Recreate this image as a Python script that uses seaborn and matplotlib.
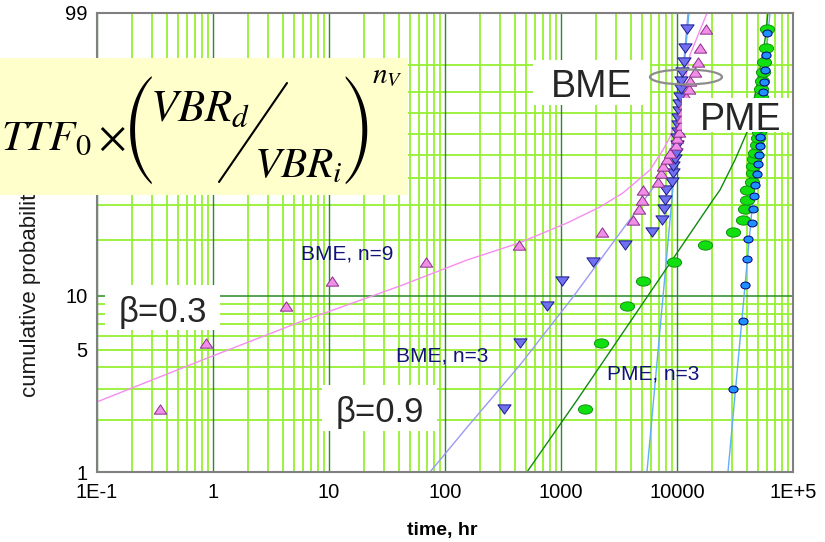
import numpy as np
import matplotlib
matplotlib.use("Agg")
import matplotlib.pyplot as plt
import seaborn as sns
from matplotlib.path import Path
from matplotlib.markers import MarkerStyle
from matplotlib.patches import Rectangle, Ellipse
from matplotlib.lines import Line2D
from matplotlib.ticker import NullLocator

# ---- plotting positions (cumulative %) ----
pct_n30 = [2.3, 5.5, 8.8, 12.1, 15.3, 18.7, 22.0, 25.2, 28.5, 31.7,
           35.0, 38.3, 41.8, 45.0, 48.2, 51.0, 54.7, 58.0, 61.0, 64.5,
           68.0, 71.3, 74.6, 77.9, 81.2, 84.5, 87.8, 91.0, 94.4, 97.6]
pct_n23 = [3.0, 7.3, 11.5, 15.8, 20.1, 24.4, 28.6, 32.9, 37.2, 41.5,
           45.7, 50.0, 54.3, 58.5, 62.8, 67.1, 71.4, 75.6, 79.9, 84.2,
           88.5, 92.7, 97.0]

# ---- failure times, hr ----
t_bme_n9 = [0.35, 0.87, 4.3, 10.6, 69, 435, 2260, 4180, 4700, 4990,
            5090, 6860, 7280, 7570, 8200, 8710, 9800, 10000, 10400, 10830,
            11050, 11270, 11490, 11960, 12680, 12940, 14300, 15180, 15780, 17800]
t_bme_n3 = [322, 443, 757, 1020, 1890, 3560, 6090, 7430, 7730, 7880,
            8040, 9060, 9240, 9300, 9620, 9800, 10000, 10050, 10100, 10200,
            10300, 10400, 10500, 10600, 10750, 10900, 11050, 11400, 11700, 12200]
t_pme_n3 = [1610, 2210, 3700, 5090, 9420, 17400, 30400, 37100, 38600, 40100,
            40500, 44300, 44800, 45200, 46200, 47000, 49000, 49900, 50500, 50900,
            51300, 52000, 52400, 53000, 53400, 54100, 55100, 56200, 58500, 59700]
t_pme = [30400, 37100, 38600, 40100, 40600, 44300, 45200, 46200, 47000, 49000,
         49900, 50900, 51500, 52000, 52600, 53200, 54000, 54800, 55600, 56500,
         57500, 58800, 59700]

# ---- fitted curves ----
fit_bme9_t = [0.1, 0.773, 5.62, 40.9, 155, 434, 1126, 2170, 3420, 5850,
              7570, 8710, 10620, 12940, 18150]
fit_bme9_p = [2.53, 4.33, 7.18, 11.34, 15.66, 19.24, 24.35, 29.23, 34.09, 43.26,
              52.3, 58.6, 72.7, 92.8, 99.0]
fit_bme3_t = [74.3, 148.7, 443, 1269, 3040, 4520, 6460, 8360, 9610, 10620, 11490, 12440]
fit_bme3_p = [1.0, 1.75, 4.11, 9.87, 20.67, 28.27, 37.1, 47.7, 59.5, 76.4, 91.5, 99.0]
fit_bme_t = [5510, 12680]
fit_bme_p = [1.0, 99.0]
fit_pme3_t = [509, 1374, 5300, 20430, 23480, 31620, 40930, 49860, 57400, 60800]
fit_pme3_p = [1.0, 2.59, 9.5, 31.6, 35.2, 47.7, 62.0, 84.8, 96.0, 99.0]
fit_pme_t = [27500, 63300]
fit_pme_p = [1.0, 99.0]

x_ticks = [0.1, 1, 10, 100, 1000, 1e4, 1e5]
x_labels = ["1E-1", "1", "10", "100", "1000", "10000", "1E+5"]
y_ticks = [1, 5, 10, 90, 99]
y_labels = ["1", "5", "10", "90", "99"]
y_grid = [2, 3, 4, 5, 6, 7, 8, 9, 20, 30, 40, 50, 60, 70, 80, 90]

sns.set_theme(style="white")
plt.rcParams['font.family'] = ['Liberation Sans', 'DejaVu Sans']

W, H = 825, 542
fig = plt.figure(figsize=(W / 100, H / 100), dpi=100)
L, R, T, B = 97, 793, 13, 472
ax = fig.add_axes([L / W, 1 - B / H, (R - L) / W, (B - T) / H])


def fx(x):
    return x / W


def fy(y):
    return 1 - y / H


def weibull_fwd(p):
    p = np.clip(np.asarray(p, dtype=float), 1e-6, 100 - 1e-6)
    return np.log(-np.log(1 - p / 100))


def weibull_inv(w):
    return 100 * (1 - np.exp(-np.exp(np.asarray(w, dtype=float))))


ax.set_xscale('log')
ax.set_yscale('function', functions=(weibull_fwd, weibull_inv))
ax.set_xlim(0.1, 1e5)
ax.set_ylim(1, 99)
ax.grid(False)

light = '#96f032'
dark = '#2a8a2a'
for d in x_ticks[:-1]:
    for k in range(2, 10):
        ax.axvline(d * k, color=light, lw=1.3, zorder=0.5)
for p in y_grid:
    ax.axhline(p, color=light, lw=1.3, zorder=0.5)
for d in x_ticks:
    ax.axvline(d, color=dark, lw=1.0, zorder=0.6)
ax.axhline(10, color=dark, lw=1.1, zorder=0.6)

# fitted curves
sns.lineplot(x=fit_bme9_t, y=fit_bme9_p, color='#f78cf0', lw=1.0, sort=False,
             estimator=None, ax=ax, zorder=2)
sns.lineplot(x=fit_bme3_t, y=fit_bme3_p, color='#9a9af5', lw=1.0, sort=False,
             estimator=None, ax=ax, zorder=2)
sns.lineplot(x=fit_bme_t, y=fit_bme_p, color='#5fb0f5', lw=1.0, sort=False,
             estimator=None, ax=ax, zorder=2)
sns.lineplot(x=fit_pme3_t, y=fit_pme3_p, color='#118811', lw=1.0, sort=False,
             estimator=None, ax=ax, zorder=2)
sns.lineplot(x=fit_pme_t, y=fit_pme_p, color='#5fb0f5', lw=1.0, sort=False,
             estimator=None, ax=ax, zorder=2)

# markers
C = [Path.MOVETO, Path.LINETO, Path.LINETO, Path.CLOSEPOLY]
tri_up = MarkerStyle(Path([(-1, -0.75), (1, -0.75), (0, 0.75), (-1, -0.75)], C))
tri_dn = MarkerStyle(Path([(-1, 0.7), (1, 0.7), (0, -0.7), (-1, 0.7)], C))


def oval(ratio):
    c = Path.unit_circle()
    return MarkerStyle(Path(c.vertices * np.array([1.0, ratio]), c.codes))


sns.scatterplot(x=t_pme_n3, y=pct_n30, marker=oval(0.65), s=105, color='#10e010',
                edgecolor='#109010', linewidth=0.7, ax=ax, zorder=4, legend=False)
sns.scatterplot(x=t_pme, y=pct_n23, marker=oval(0.75), s=44, color='#2090ff',
                edgecolor='#000080', linewidth=0.7, ax=ax, zorder=4, legend=False)
sns.scatterplot(x=t_bme_n3, y=pct_n30, marker=tri_dn, s=90, color='#7070f0',
                edgecolor='#1a1a8c', linewidth=0.7, ax=ax, zorder=5, legend=False)
sns.scatterplot(x=t_bme_n9, y=pct_n30, marker=tri_up, s=80, color='#f08ee8',
                edgecolor='#8b2d8b', linewidth=0.7, ax=ax, zorder=6, legend=False)

# axes styling
ax.set_xticks(x_ticks, labels=x_labels)
ax.set_yticks(y_ticks, labels=y_labels)
ax.xaxis.set_minor_locator(NullLocator())
ax.yaxis.set_minor_locator(NullLocator())
ax.tick_params(axis='x', length=0, pad=8, labelsize=14.5, labelcolor='black')
ax.tick_params(axis='y', length=3, width=1.2, color='#808080', pad=4,
               labelsize=14.5, labelcolor='black')
for sp in ax.spines.values():
    sp.set_visible(True)
    sp.set_color('#808080')
    sp.set_linewidth(1.5)
    sp.set_zorder(7)
ax.set_xlabel('')
ax.set_ylabel('')
ax.text(fx(31), fy(290), 'cumulative probability', rotation=90, ha='center',
        va='center', fontsize=16, color='#1a1a1a', transform=fig.transFigure)
fig.text(fx(442), fy(530), 'time, hr', ha='center', va='center', fontsize=14,
         fontweight='bold', color='black')


def box(x0, y0, x1, y1, color='white'):
    fig.add_artist(Rectangle((fx(x0), fy(y1)), (x1 - x0) / W, (y1 - y0) / H,
                             transform=fig.transFigure, facecolor=color,
                             edgecolor='none', zorder=1))


# model formula panel: TTF0 x (VBRd / VBRi)^nV
box(0, 58, 408, 195, '#ffffcc')
math_kw = dict(math_fontfamily='stix', color='black', va='baseline', ha='left')
fig.text(fx(1), fy(150), r'$TTF_0\times$', fontsize=31, **math_kw)
fig.text(fx(150), fy(121), r'$VBR_d$', fontsize=32, **math_kw)
fig.text(fx(254), fy(177), r'$VBR_i$', fontsize=31, **math_kw)
fig.text(fx(139), fy(131), '(', fontfamily='STIXSizeThreeSym', fontsize=32,
         ha='center', va='center', color='black')
fig.text(fx(358), fy(131), ')', fontfamily='STIXSizeThreeSym', fontsize=32,
         ha='center', va='center', color='black')
fig.text(fx(372), fy(82), r'$n_V$', fontsize=21, **math_kw)
fig.add_artist(Line2D([fx(219), fx(287)], [fy(182), fy(83)], transform=fig.transFigure,
                      color='black', lw=1.5, zorder=3))

# labels with white backgrounds
box(105, 285, 220, 330)
fig.text(fx(163), fy(322), 'β=0.3', ha='center', va='baseline', fontsize=25)
box(322, 385, 437, 431)
fig.text(fx(380), fy(422), 'β=0.9', ha='center', va='baseline', fontsize=25)
box(533, 60, 650, 105)
fig.text(fx(592), fy(97), 'BME', ha='center', va='baseline', fontsize=27)
box(682, 98, 792, 132)
fig.text(fx(741), fy(130), 'PME', ha='center', va='baseline', fontsize=27)
fig.add_artist(Ellipse((fx(686), fy(77)), 72 / W, 15 / H, transform=fig.transFigure,
                       facecolor='none', edgecolor='#8c8c8c', lw=1.6, zorder=3))

navy = '#12127a'
fig.text(fx(301), fy(260), 'BME, n=9', ha='left', va='baseline', fontsize=15, color=navy)
fig.text(fx(396), fy(361), 'BME, n=3', ha='left', va='baseline', fontsize=15, color=navy)
fig.text(fx(607), fy(380), 'PME, n=3', ha='left', va='baseline', fontsize=15, color=navy)

fig.savefig('out.png', dpi=100)
